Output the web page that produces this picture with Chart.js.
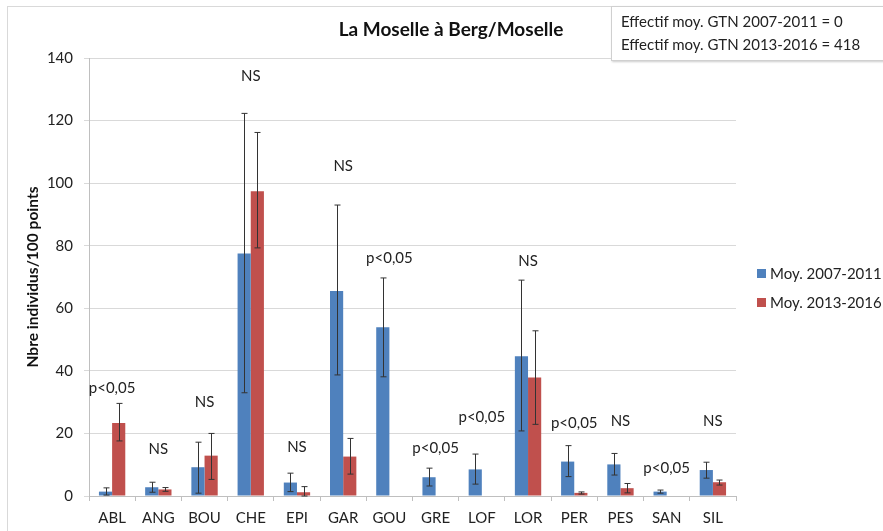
<!DOCTYPE html>
<html>
<head>
<meta charset="utf-8">
<script src="https://cdn.jsdelivr.net/npm/chart.js@4"></script>
<style>
  body { margin: 0; background: #fff; font-family: Lato, sans-serif; }
  #wrap { position: relative; width: 883px; height: 531px; overflow: hidden; }
  #cadre { position: absolute; left: 7px; top: 6px; width: 900px; height: 560px; border: 1px solid #d9d9d9; }
  #effectif { position: absolute; left: 611px; top: 6px; width: 300px; height: 55px; border: 1px solid #d0d0d0;
              background: #fff; box-shadow: 1px 1px 2px #ccc; font-size: 15px; color: #222; line-height: 23px;
              padding: 3px 0 0 9px; box-sizing: border-box; }
  canvas { position: absolute; left: 0; top: 0; }
</style>
</head>
<body>
<div id="wrap">
  <div id="cadre"></div>
  <canvas id="graphe" width="883" height="531"></canvas>
  <div id="effectif">Effectif moy. GTN 2007-2011 = 0<br>Effectif moy. GTN 2013-2016 = 418</div>
</div>
<script>
// Données
const especes = ['ABL', 'ANG', 'BOU', 'CHE', 'EPI', 'GAR', 'GOU', 'GRE', 'LOF', 'LOR', 'PER', 'PES', 'SAN', 'SIL'];

const moy0711 = [1.4, 2.8, 9.2, 77.5, 4.3, 65.5, 53.9, 6.0, 8.5, 44.7, 11.0, 10.1, 1.4, 8.3];
const moy0711Bas = [0.3, 1.2, 0.9, 33.0, 1.4, 38.7, 38.1, 3.2, 3.8, 20.8, 6.2, 6.7, 0.9, 5.7];
const moy0711Haut = [2.6, 4.4, 17.2, 122.3, 7.3, 93.0, 69.7, 8.9, 13.4, 69.0, 16.1, 13.6, 1.9, 10.8];

const moy1316 = [23.3, 2.1, 12.9, 97.4, 1.2, 12.6, 0, 0, 0, 37.9, 1.0, 2.5, 0, 4.4];
const moy1316Bas = [17.6, 1.5, 5.3, 79.3, 0, 7.0, null, null, null, 22.9, 0.6, 1.0, null, 3.5];
const moy1316Haut = [29.6, 2.7, 20.0, 116.2, 3.0, 18.4, null, null, null, 52.8, 1.3, 4.0, null, 5.1];

const signif = ['p<0,05', 'NS', 'NS', 'NS', 'NS', 'NS', 'p<0,05', 'p<0,05', 'p<0,05', 'NS', 'p<0,05', 'NS', 'p<0,05', 'NS'];
const signifY = [34.5, 15.0, 30.0, 134.2, 15.6, 105.4, 75.9, 15.3, 25.2, 75.2, 23.3, 23.9, 8.9, 23.9];

const yTicks = [0, 20, 40, 60, 80, 100, 120, 140];

const BLEU = '#4f81bd';
const ROUGE = '#c0504d';
const POLICE = 'Lato, sans-serif';

// Barres d'erreur + textes de significativité + titre + légende
const decor = {
    id: 'decor',
    afterDatasetsDraw(chart) {
        const ctx = chart.ctx;
        const y = chart.scales.y;
        const x = chart.scales.x;
        const bornes = [[moy0711Bas, moy0711Haut], [moy1316Bas, moy1316Haut]];

        ctx.save();
        ctx.strokeStyle = '#333';
        ctx.lineWidth = 1;
        bornes.forEach((b, d) => {
            chart.getDatasetMeta(d).data.forEach((bar, i) => {
                if (b[0][i] == null) return;
                const px = Math.round(bar.x) + 0.5;
                const yb = y.getPixelForValue(b[0][i]);
                const yh = y.getPixelForValue(b[1][i]);
                ctx.beginPath();
                ctx.moveTo(px, yb); ctx.lineTo(px, yh);
                ctx.moveTo(px - 3, yb); ctx.lineTo(px + 3, yb);
                ctx.moveTo(px - 3, yh); ctx.lineTo(px + 3, yh);
                ctx.stroke();
            });
        });

        ctx.fillStyle = '#222';
        ctx.font = '15px ' + POLICE;
        ctx.textAlign = 'center';
        ctx.textBaseline = 'middle';
        signif.forEach((s, i) => {
            ctx.fillText(s, x.getPixelForValue(i), y.getPixelForValue(signifY[i]));
        });

        // titre
        ctx.font = 'bold 19px ' + POLICE;
        ctx.fillStyle = '#111';
        ctx.fillText('La Moselle à Berg/Moselle', 451, 30);

        // titre axe y
        ctx.save();
        ctx.translate(33, 277);
        ctx.rotate(-Math.PI / 2);
        ctx.font = 'bold 15.5px ' + POLICE;
        ctx.fillText('Nbre individus/100 points', 0, 0);
        ctx.restore();

        // légende
        ctx.textAlign = 'left';
        ctx.font = '15px ' + POLICE;
        chart.data.datasets.forEach((ds, d) => {
            const ly = 274 + d * 29;
            ctx.fillStyle = ds.backgroundColor;
            ctx.fillRect(757, ly - 5, 9, 9);
            ctx.fillStyle = '#222';
            ctx.fillText(ds.label, 770, ly);
        });
        ctx.restore();
    }
};

new Chart(document.getElementById('graphe'), {
    type: 'bar',
    data: {
        labels: especes,
        datasets: [
            { label: 'Moy. 2007-2011', data: moy0711, backgroundColor: BLEU },
            { label: 'Moy. 2013-2016', data: moy1316, backgroundColor: ROUGE }
        ]
    },
    options: {
        responsive: false,
        animation: false,
        layout: { padding: { left: 0, top: 58, right: 147, bottom: 0 } },
        datasets: { bar: { categoryPercentage: 0.57, barPercentage: 1 } },
        plugins: { legend: { display: false }, tooltip: { enabled: false } },
        scales: {
            x: {
                afterFit: s => { s.height = 35; },
                grid: { offset: true, drawOnChartArea: false, tickLength: 5, color: '#bfbfbf' },
                border: { color: '#bfbfbf' },
                ticks: { color: '#222', font: { family: POLICE, size: 15 }, padding: 8 }
            },
            y: {
                min: 0, max: 140,
                afterFit: s => { s.width = 89; },
                afterBuildTicks: s => { s.ticks = yTicks.map(v => ({ value: v })); },
                grid: { color: '#d9d9d9', tickLength: 5 },
                border: { color: '#bfbfbf' },
                ticks: { color: '#222', font: { family: POLICE, size: 15 }, padding: 11 }
            }
        }
    },
    plugins: [decor]
});
</script>
</body>
</html>
